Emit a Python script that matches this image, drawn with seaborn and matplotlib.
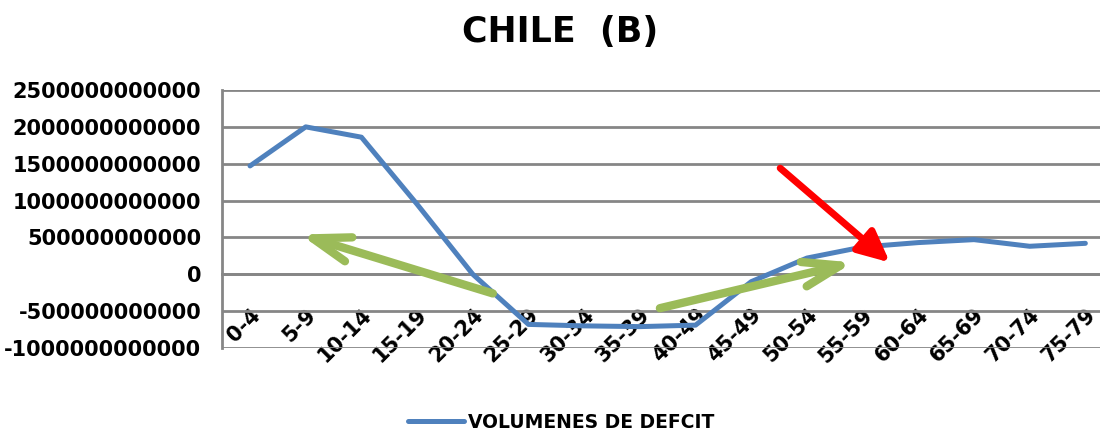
import matplotlib
matplotlib.use("Agg")
import matplotlib.pyplot as plt
import seaborn as sns
import pandas as pd
import numpy as np

# data
age_groups = ["0-4", "5-9", "10-14", "15-19", "20-24", "25-29", "30-34", "35-39",
              "40-49", "45-49", "50-54", "55-59", "60-64", "65-69", "70-74", "75-79"]
deficit = [1.47e12, 2.00e12, 1.86e12, 0.95e12, 0.00e12, -0.68e12, -0.70e12, -0.71e12,
           -0.69e12, -0.10e12, 0.22e12, 0.37e12, 0.43e12, 0.47e12, 0.38e12, 0.42e12]
y_ticks = [2500000000000, 2000000000000, 1500000000000, 1000000000000, 500000000000,
           0, -500000000000, -1000000000000]

df = pd.DataFrame({"grupo": age_groups, "valor": deficit})

sns.set_style("white")
plt.rcParams['font.family'] = ['DejaVu Sans']
plt.rcParams['text.color'] = 'black'

fig = plt.figure(figsize=(11, 4.38), dpi=100)
# plot area runs a little past the right edge, as in the original
ax = fig.add_axes([0.202, 0.2055, 0.810, 0.589])

grid_col = "#868686"
for t in y_ticks:
    ax.axhline(t, color=grid_col, lw=2, zorder=1)

sns.lineplot(data=df, x="grupo", y="valor", color="#4F81BD", lw=3.6,
             label="VOLUMENES DE DEFCIT", ax=ax, zorder=3, sort=False)

ax.set_xlim(-0.5, len(age_groups) - 0.5)
ax.set_ylim(min(y_ticks), max(y_ticks))
ax.set_yticks(y_ticks)
ax.set_yticklabels([str(t) for t in y_ticks], fontsize=15, fontweight="bold")
ax.set_xlabel("")
ax.set_ylabel("")

# category labels under the zero axis, tick marks between categories
ax.spines["bottom"].set_position(("data", 0))
ax.spines["bottom"].set_color(grid_col)
ax.spines["bottom"].set_linewidth(2)
ax.set_xticks(range(len(age_groups)))
ax.set_xticklabels(age_groups, rotation=45, ha="right", va="top",
                   fontsize=15, fontweight="bold", rotation_mode="anchor")
ax.set_xticks(np.arange(len(age_groups) + 1) - 0.5, minor=True)
ax.tick_params(axis="x", which="major", length=0, pad=22, labelcolor="black")
ax.tick_params(axis="x", which="minor", length=8, width=2, color=grid_col, direction="out")
ax.tick_params(axis="y", length=6, width=2, color=grid_col, direction="out", pad=9,
               labelcolor="black")
for s in ["top", "right"]:
    ax.spines[s].set_visible(False)
ax.spines["left"].set_color(grid_col)
ax.spines["left"].set_linewidth(2)

# arrows drawn on the original
green = "#9BBB59"
chevron = dict(arrowstyle="->,head_length=1.35,head_width=0.45", color=green, lw=6,
               shrinkA=0, shrinkB=0, mutation_scale=20, capstyle="round", joinstyle="round")
ax.annotate("", xy=(0.90, 0.54e12), xytext=(4.36, -0.26e12), arrowprops=chevron, zorder=4)
ax.annotate("", xy=(10.83, 0.16e12), xytext=(7.36, -0.46e12), arrowprops=chevron, zorder=4)
ax.annotate("", xy=(11.49, 0.16e12), xytext=(9.52, 1.44e12),
            arrowprops=dict(arrowstyle="-|>,head_length=0.95,head_width=0.45", color="#FF0000",
                            lw=5, shrinkA=0, shrinkB=0, mutation_scale=20), zorder=4)

fig.suptitle("CHILE  (B)", x=0.509, y=0.965, fontsize=25, fontweight="bold", color="black")

leg = ax.legend(loc="lower center", bbox_to_anchor=(0.38, -0.39), frameon=False,
                prop={"size": 13.5, "weight": "bold"}, handlelength=3, handletextpad=0.2)

fig.savefig("out.png", dpi=100)
